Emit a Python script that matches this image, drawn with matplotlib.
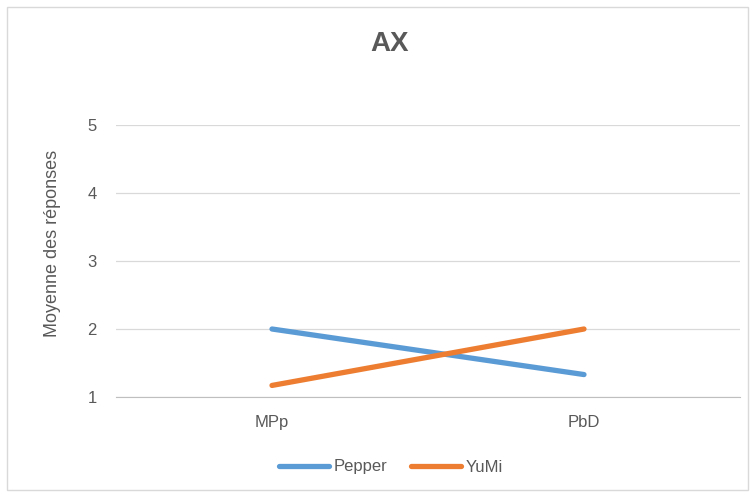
import matplotlib
matplotlib.use("Agg")
import matplotlib.pyplot as plt
from matplotlib.patches import Rectangle

categories = ["MPp", "PbD"]
pepper = [2.0, 1.33]
yumi = [1.17, 2.0]
yticks = [1, 2, 3, 4, 5]

plt.rcParams['font.family'] = ['Liberation Sans', 'DejaVu Sans']

fig = plt.figure(figsize=(7.53, 4.97), dpi=100)
ax = fig.add_axes([116/753, 1 - 397/497, (740-116)/753, (397-125)/497])

x = list(range(len(categories)))
ax.plot(x, pepper, color="#5B9BD5", lw=3.8, solid_capstyle="round", label="Pepper")
ax.plot(x, yumi, color="#ED7D31", lw=3.8, solid_capstyle="round", label="YuMi")

ax.set_xlim(-0.5, 1.5)
ax.set_ylim(1, 5)
ax.set_yticks(yticks)
ax.set_xticks(x)
ax.set_xticklabels(categories)
ax.grid(axis="y", color="#D9D9D9", lw=0.9)
ax.set_axisbelow(True)
for s in ["top", "right", "left"]:
    ax.spines[s].set_visible(False)
ax.spines["bottom"].set_color("#BFBFBF")
ax.tick_params(axis="both", length=0, labelsize=12, colors="#595959")
ax.tick_params(axis="x", pad=13)
ax.tick_params(axis="y", pad=14)
ax.set_ylabel("Moyenne des réponses", fontsize=13, color="#595959")
ax.yaxis.set_label_coords((61 - 116) / (740 - 116), (397 - 243) / (397 - 125))

fig.text(390/753, 1 - 44/497, "AX", ha="center", va="center", fontsize=20,
         fontweight="bold", color="#595959")

leg = fig.legend(loc="center", bbox_to_anchor=(391/753, 1 - 467/497), ncol=2, frameon=False,
                 fontsize=12, handlelength=3.0, columnspacing=1.4, handletextpad=0.3)
for t in leg.get_texts():
    t.set_color("#595959")

fig.patches.append(Rectangle((7/753, 7/497), (748-7)/753, (490-7)/497, transform=fig.transFigure,
                             fill=False, edgecolor="#D9D9D9", lw=1))

fig.savefig("out.png", dpi=100)
